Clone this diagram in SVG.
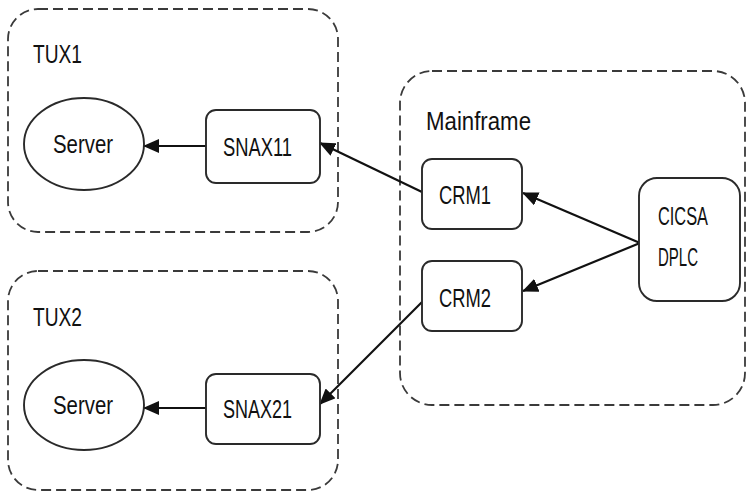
<svg xmlns="http://www.w3.org/2000/svg" width="748" height="493" viewBox="0 0 748 493">
  <style>
    .group { fill: none; stroke: #3a3a3a; stroke-width: 1.8; stroke-dasharray: 10 5; }
    .node { fill: #fff; stroke: #2a2a2a; stroke-width: 1.9; }
    .label { font-family: "Liberation Sans", Arial, sans-serif; font-size: 25px; fill: #111; }
    .edge { fill: none; stroke: #111; stroke-width: 2.2; marker-end: url(#arrow); }
  </style>
  <defs>
    <marker id="arrow" markerUnits="userSpaceOnUse" markerWidth="16" markerHeight="14" refX="15" refY="7" orient="auto">
      <path d="M0,0 L16,7 L0,14 Z" fill="#111"/>
    </marker>
  </defs>
  <rect width="748" height="493" fill="#fff"/>

  <!-- container groups -->
  <g id="tux1">
    <rect class="group" x="8" y="9" width="330" height="223" rx="30" ry="30"/>
    <text class="label" x="33" y="63" textLength="49" lengthAdjust="spacingAndGlyphs">TUX1</text>
  </g>
  <g id="tux2">
    <rect class="group" x="8" y="271" width="330" height="219" rx="30" ry="30"/>
    <text class="label" x="33" y="326" textLength="49" lengthAdjust="spacingAndGlyphs">TUX2</text>
  </g>
  <g id="mainframe">
    <rect class="group" x="400" y="71" width="345" height="334" rx="32" ry="32"/>
    <text class="label" x="426" y="130" textLength="105" lengthAdjust="spacingAndGlyphs">Mainframe</text>
  </g>

  <!-- connectors -->
  <g id="connectors">
    <line class="edge" x1="206" y1="146" x2="144" y2="146"/>
    <line class="edge" x1="422" y1="192" x2="320" y2="143"/>
    <line class="edge" x1="640" y1="243" x2="523" y2="193"/>
    <line class="edge" x1="640" y1="243" x2="523" y2="291"/>
    <line class="edge" x1="206" y1="408" x2="144" y2="408"/>
    <line class="edge" x1="422" y1="302" x2="320" y2="404"/>
  </g>

  <!-- nodes -->
  <g id="server1">
    <ellipse class="node" cx="84" cy="144" rx="60" ry="46"/>
    <text class="label" x="53" y="153" textLength="60" lengthAdjust="spacingAndGlyphs">Server</text>
  </g>
  <g id="snax11">
    <rect class="node" x="206" y="110" width="114" height="73" rx="10" ry="10"/>
    <text class="label" x="223" y="156" textLength="69" lengthAdjust="spacingAndGlyphs">SNAX11</text>
  </g>
  <g id="server2">
    <ellipse class="node" cx="84" cy="405" rx="60" ry="45"/>
    <text class="label" x="53" y="414" textLength="60" lengthAdjust="spacingAndGlyphs">Server</text>
  </g>
  <g id="snax21">
    <rect class="node" x="206" y="374" width="114" height="70" rx="10" ry="10"/>
    <text class="label" x="223" y="418" textLength="69" lengthAdjust="spacingAndGlyphs">SNAX21</text>
  </g>
  <g id="crm1">
    <rect class="node" x="422" y="159" width="100" height="70" rx="10" ry="10"/>
    <text class="label" x="439" y="204" textLength="52" lengthAdjust="spacingAndGlyphs">CRM1</text>
  </g>
  <g id="crm2">
    <rect class="node" x="422" y="261" width="100" height="70" rx="10" ry="10"/>
    <text class="label" x="439" y="307" textLength="52" lengthAdjust="spacingAndGlyphs">CRM2</text>
  </g>
  <g id="cicsa">
    <rect class="node" x="639" y="178" width="101" height="123" rx="18" ry="18"/>
    <text class="label" x="658" y="225" textLength="50" lengthAdjust="spacingAndGlyphs">CICSA</text>
    <text class="label" x="658" y="266" textLength="40" lengthAdjust="spacingAndGlyphs">DPLC</text>
  </g>
</svg>
